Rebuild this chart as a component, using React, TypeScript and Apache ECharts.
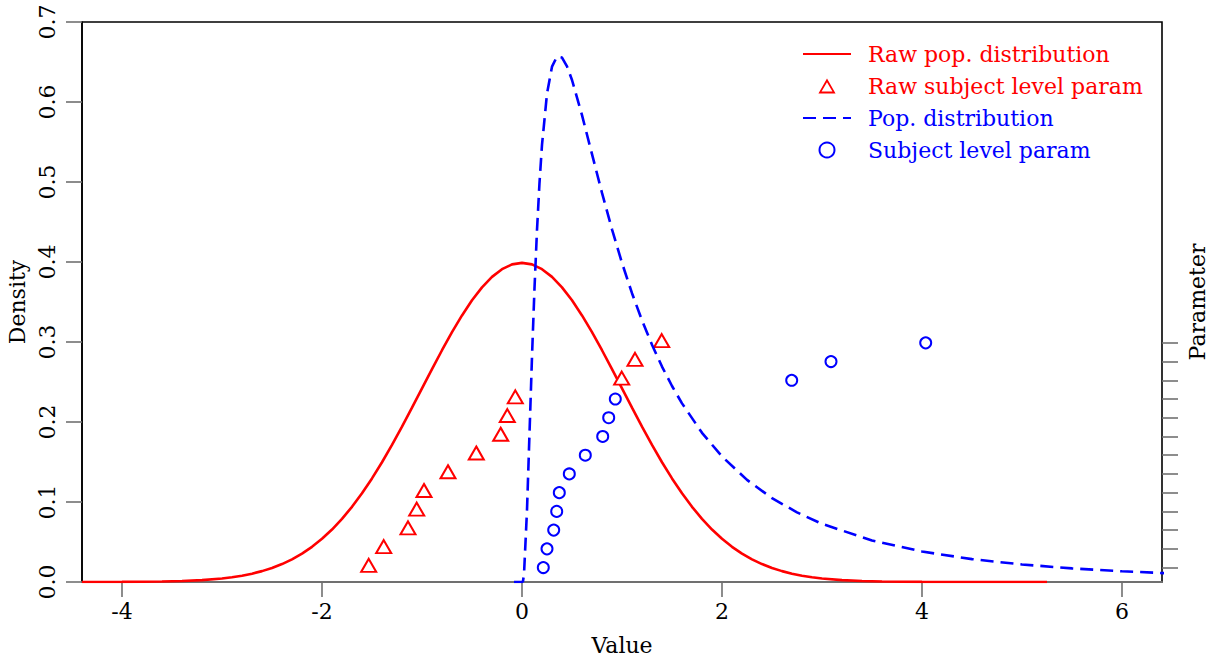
import React, { useEffect, useRef } from 'react';
import * as echarts from 'echarts';

// Raw population distribution (solid red curve)
const rawPopX = [
  -4.4, -4.2, -4.0, -3.8, -3.6, -3.4, -3.2, -3.0, -2.9, -2.8, -2.7, -2.6, -2.5, -2.4, -2.3, -2.2, -2.1,
  -2.0, -1.9, -1.8, -1.7, -1.6, -1.5, -1.4, -1.3, -1.2, -1.1, -1.0, -0.9, -0.8, -0.7, -0.6, -0.5, -0.4,
  -0.3, -0.2, -0.1, 0.0, 0.1, 0.2, 0.3, 0.4, 0.5, 0.6, 0.7, 0.8, 0.9, 1.0, 1.1, 1.2, 1.3, 1.4, 1.5, 1.6,
  1.7, 1.8, 1.9, 2.0, 2.1, 2.2, 2.3, 2.4, 2.5, 2.6, 2.7, 2.8, 2.9, 3.0, 3.2, 3.4, 3.6, 3.8, 4.0, 4.4, 4.8, 5.25,
];
const rawPopDensity = [
  0.00002, 0.00006, 0.0001, 0.0003, 0.0006, 0.0012, 0.0024, 0.0044, 0.006, 0.0079, 0.0104, 0.0136, 0.0175,
  0.0224, 0.0283, 0.0355, 0.044, 0.054, 0.0656, 0.079, 0.094, 0.1109, 0.1295, 0.1497, 0.1714, 0.1942, 0.2179,
  0.242, 0.2661, 0.2897, 0.3123, 0.3332, 0.3521, 0.3683, 0.3814, 0.391, 0.397, 0.3989, 0.397, 0.391, 0.3814,
  0.3683, 0.3521, 0.3332, 0.3123, 0.2897, 0.2661, 0.242, 0.2179, 0.1942, 0.1714, 0.1497, 0.1295, 0.1109, 0.094,
  0.079, 0.0656, 0.054, 0.044, 0.0355, 0.0283, 0.0224, 0.0175, 0.0136, 0.0104, 0.0079, 0.006, 0.0044, 0.0024,
  0.0012, 0.0006, 0.0003, 0.0001, 0.00002, 0.000004, 0,
];

// Transformed population distribution (dashed blue curve)
const popX = [
  -0.08, 0, 0.01, 0.02, 0.05, 0.075, 0.1, 0.125, 0.15, 0.175, 0.2, 0.25, 0.3, 0.35, 0.4, 0.45, 0.5, 0.6, 0.7,
  0.8, 0.9, 1.0, 1.1, 1.2, 1.3, 1.4, 1.5, 1.6, 1.8, 2.0, 2.25, 2.5, 2.75, 3.0, 3.5, 4.0, 4.5, 5.0, 5.5, 6.0, 6.5,
];
const popDensity = [
  0, 0, 0.001, 0.0095, 0.0898, 0.1857, 0.2816, 0.3673, 0.4399, 0.499, 0.5463, 0.6104, 0.6442, 0.6569, 0.6555,
  0.6445, 0.6275, 0.5836, 0.5348, 0.4864, 0.4408, 0.3989, 0.361, 0.327, 0.2965, 0.2693, 0.245, 0.2233, 0.1865,
  0.1569, 0.1276, 0.1049, 0.087, 0.0727, 0.052, 0.0381, 0.0286, 0.0219, 0.017, 0.0134, 0.0107,
];

// Subject level parameters (index on the right "Parameter" axis)
const subjectIndex = [1, 2, 3, 4, 5, 6, 7, 8, 9, 10, 11, 12, 13];
const rawSubjectParam = [-1.533, -1.383, -1.14, -1.053, -0.98, -0.74, -0.457, -0.213, -0.147, -0.067, 0.997, 1.13, 1.397];
const subjectParam = [0.213, 0.25, 0.317, 0.347, 0.373, 0.473, 0.633, 0.807, 0.867, 0.933, 2.697, 3.09, 4.037];

const xTicks = [-4, -2, 0, 2, 4, 6];

const RED = '#ff0000';
const BLUE = '#0000ff';
const GRAY = '#707070';
const FONT = 'DejaVu Serif';
const FS = 22;
// hollow triangle icon for the legend (outer clockwise, inner counter-clockwise)
const HOLLOW_TRIANGLE = 'path://M8,0 L16,14 L0,14 Z M8,3.4 L2.9,12.2 L13.1,12.2 Z';

export default function App() {
  const ref = useRef<HTMLDivElement>(null);

  useEffect(() => {
    if (!ref.current) return;
    const chart = echarts.init(ref.current, null, { renderer: 'svg' });
    const textStyle = { fontFamily: FONT, fontSize: FS, color: '#000' };
    const hiddenSymbol = { opacity: 0 };
    chart.setOption({
      animation: false,
      backgroundColor: '#ffffff',
      textStyle: { fontFamily: FONT },
      grid: {
        left: 82,
        right: 49,
        top: 22,
        bottom: 82,
        show: true,
        borderColor: '#000',
        borderWidth: 1.6,
        containLabel: false,
        outerBoundsMode: 'none',
      },
      legend: {
        orient: 'vertical',
        left: 797,
        top: 37,
        itemWidth: 48,
        itemHeight: 15,
        itemGap: 8,
        symbolKeepAspect: true,
        textStyle: { fontFamily: FONT, fontSize: FS, lineHeight: 24, padding: [0, 0, 0, 12] },
        data: [
          { name: 'Raw pop. distribution', textStyle: { color: RED }, itemStyle: hiddenSymbol },
          {
            name: 'Raw subject level param',
            icon: HOLLOW_TRIANGLE,
            textStyle: { color: RED },
            itemStyle: { color: RED, borderWidth: 0 },
          },
          { name: 'Pop. distribution', textStyle: { color: BLUE }, itemStyle: hiddenSymbol },
          { name: 'Subject level param', textStyle: { color: BLUE } },
        ],
      },
      xAxis: {
        type: 'value',
        min: -4.4,
        max: 6.4,
        name: 'Value',
        nameLocation: 'middle',
        nameGap: 52,
        nameTextStyle: textStyle,
        axisLine: { show: true, onZero: false, lineStyle: { color: GRAY, width: 1.8 } },
        axisTick: { show: true, customValues: xTicks, length: 15, lineStyle: { color: GRAY, width: 1.6 } },
        axisLabel: { customValues: xTicks, margin: 18, ...textStyle },
        splitLine: { show: false },
      },
      yAxis: [
        {
          type: 'value',
          position: 'left',
          min: 0,
          max: 0.7,
          interval: 0.1,
          name: 'Density',
          nameLocation: 'middle',
          nameGap: 50,
          nameTextStyle: textStyle,
          axisLine: { show: true, onZero: false, lineStyle: { color: '#000', width: 1.6 } },
          axisTick: { show: true, length: 16, lineStyle: { color: GRAY, width: 1.6 } },
          axisLabel: {
            rotate: 90,
            margin: 24,
            formatter: (v: number) => v.toFixed(1),
            ...textStyle,
          },
          splitLine: { show: false },
        },
        {
          type: 'value',
          position: 'right',
          min: 0.23,
          max: 30.13,
          name: 'Parameter',
          nameLocation: 'middle',
          nameGap: 24,
          nameTextStyle: textStyle,
          axisLine: { show: false, onZero: false },
          axisTick: { show: true, customValues: subjectIndex, length: 16, lineStyle: { color: GRAY, width: 1.6 } },
          axisLabel: { show: false },
          splitLine: { show: false },
        },
      ],
      series: [
        {
          name: 'Raw pop. distribution',
          type: 'line',
          symbol: 'none',
          lineStyle: { color: RED, width: 2.6 },
          itemStyle: { color: RED },
          data: rawPopX.map((x, i) => [x, rawPopDensity[i]]),
          z: 2,
        },
        {
          name: 'Raw subject level param',
          type: 'scatter',
          yAxisIndex: 1,
          symbol: 'emptyTriangle',
          symbolSize: [15, 13],
          symbolOffset: [0, -2.2],
          itemStyle: { color: RED, borderColor: RED, borderWidth: 1.8, opacity: 1 },
          data: rawSubjectParam.map((x, i) => [x, subjectIndex[i]]),
          z: 3,
        },
        {
          name: 'Pop. distribution',
          type: 'line',
          symbol: 'none',
          lineStyle: { color: BLUE, width: 2.6, type: [13, 7] },
          itemStyle: { color: BLUE },
          data: popX.map((x, i) => [x, popDensity[i]]),
          z: 4,
        },
        {
          name: 'Subject level param',
          type: 'scatter',
          yAxisIndex: 1,
          symbol: 'emptyCircle',
          symbolSize: 11,
          itemStyle: { color: BLUE, borderColor: BLUE, borderWidth: 1.8, opacity: 1 },
          data: subjectParam.map((x, i) => [x, subjectIndex[i]]),
          z: 5,
        },
      ],
    });
    return () => chart.dispose();
  }, []);

  return (
    <div
      ref={ref}
      style={{ position: 'absolute', left: 0, top: 0, width: 1211, height: 664, background: '#fff' }}
    />
  );
}
